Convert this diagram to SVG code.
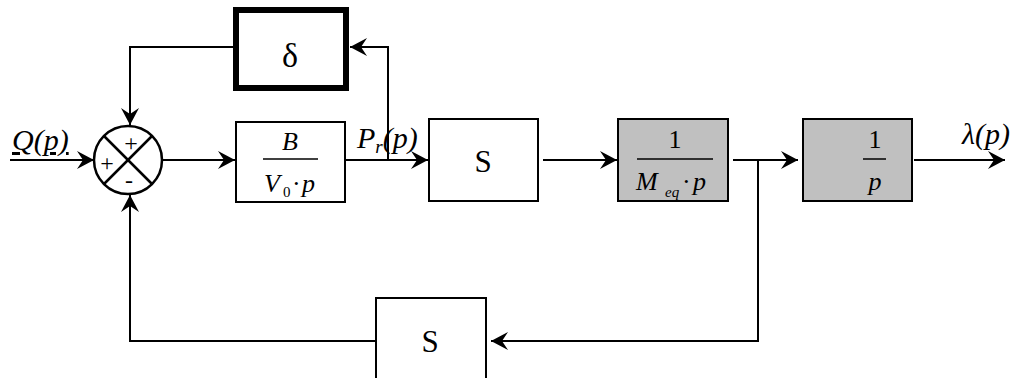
<svg xmlns="http://www.w3.org/2000/svg" width="1014" height="378" viewBox="0 0 1014 378">
<style>
.box{fill:#ffffff;stroke:#000;stroke-width:2}
.gray{fill:#c0c0c0;stroke:#000;stroke-width:2}
.thick{fill:#ffffff;stroke:#000;stroke-width:6}
.wire{fill:none;stroke:#000;stroke-width:2;marker-end:url(#arr)}
.plain{fill:none;stroke:#000;stroke-width:2.5}
.frac{stroke:#000;stroke-width:1.5}
text{font-family:'Liberation Serif','DejaVu Serif',serif;fill:#000}
.i{font-style:italic}
</style>
<defs>
<marker id="arr" markerUnits="userSpaceOnUse" markerWidth="20" markerHeight="20" viewBox="-18 -10 19 20" refX="0" refY="0" orient="auto">
<path d="M0,0 L-17,-9 L-11,0 L-17,9 Z" fill="#000"/>
</marker>
</defs>
<rect width="1014" height="378" fill="#fff"/>
<g id="connectors">
<path class="wire" d="M10,160 L94,160"/>
<path class="wire" d="M162,160 L235,160"/>
<path class="wire" d="M345,160 L428,160"/>
<path class="wire" d="M388,160 L388,47 L350,47"/>
<path class="wire" d="M233,47 L130,47 L130,125"/>
<path class="wire" d="M543,160 L617,160"/>
<path class="wire" d="M733,160 L798,160"/>
<path class="wire" d="M914,160 L1005,160"/>
<path class="wire" d="M758,160 L758,341 L491,341"/>
<path class="wire" d="M376,341 L130,341 L130,195"/>
</g>
<g id="sum">
<circle cx="128" cy="160" r="34" fill="#fff" stroke="#000" stroke-width="2.5"/>
<line class="plain" x1="104" y1="136" x2="152" y2="184"/>
<line class="plain" x1="152" y1="136" x2="104" y2="184"/>
<text x="131" y="151" font-size="24" text-anchor="middle">+</text>
<text x="107" y="171" font-size="24" text-anchor="middle">+</text>
<text x="129" y="188" font-size="24" text-anchor="middle">-</text>
</g>
<g id="delta">
<rect class="thick" x="236" y="10" width="110" height="78"/>
<text x="290" y="67" font-size="34" text-anchor="middle">δ</text>
</g>
<g id="integrator">
<rect class="box" x="236" y="122" width="109" height="80"/>
<text class="i" x="290" y="150" font-size="26" text-anchor="middle">B</text>
<line class="frac" x1="263" y1="159" x2="318" y2="159"/>
<text class="i" x="264" y="192" font-size="26">V</text>
<text x="283" y="197" font-size="15">0</text>
<text x="292" y="192" font-size="26">·</text>
<text class="i" x="302" y="192" font-size="26">p</text>
</g>
<g id="section">
<rect class="box" x="429" y="119" width="109" height="82"/>
<text x="483" y="172" font-size="31" text-anchor="middle">S</text>
</g>
<g id="mass">
<rect class="gray" x="618" y="119" width="110" height="82"/>
<text x="675" y="148" font-size="26" text-anchor="middle">1</text>
<line class="frac" x1="637" y1="159" x2="713" y2="159"/>
<text class="i" x="636" y="190" font-size="26">M</text>
<text class="i" x="665" y="197" font-size="15">eq</text>
<text x="682" y="190" font-size="26">·</text>
<text class="i" x="693" y="190" font-size="26">p</text>
</g>
<g id="integ2">
<rect class="gray" x="803" y="119" width="109" height="82"/>
<text x="875" y="148" font-size="26" text-anchor="middle">1</text>
<line class="frac" x1="863" y1="159" x2="886" y2="159"/>
<text class="i" x="875" y="190" font-size="26" text-anchor="middle">p</text>
</g>
<g id="section2">
<rect class="box" x="376" y="298" width="110" height="82"/>
<text x="430" y="352" font-size="31" text-anchor="middle">S</text>
</g>
<g id="labels">
<text class="i" x="12" y="150" font-size="30" text-decoration="underline">Q(p)</text>
<text class="i" x="357" y="148" font-size="30">P<tspan font-size="19" dy="5">r</tspan><tspan dy="-5">(p)</tspan></text>
<text class="i" x="962" y="144" font-size="30">λ(p)</text>
</g>
</svg>
